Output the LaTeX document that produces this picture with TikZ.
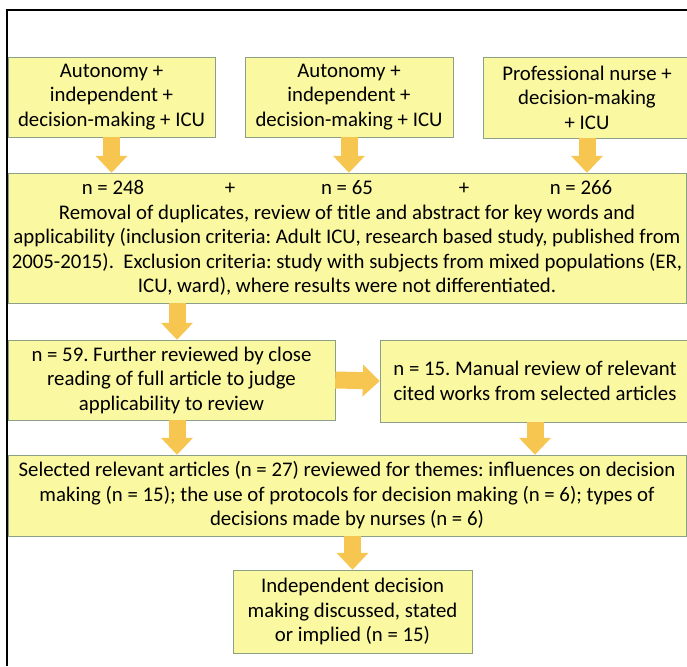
\documentclass[tikz,border=0pt]{standalone}
\usepackage{fontspec}
\setmainfont{Carlito}
\usepackage{xcolor}
\usepackage{tikz}
\usetikzlibrary{positioning,arrows.meta}
\definecolor{boxfill}{RGB}{250,248,160}
\definecolor{boxline}{RGB}{140,160,135}
\definecolor{arrowfill}{RGB}{247,198,80}
\frenchspacing

\begin{document}
\begin{tikzpicture}[x=1pt,y=-1pt,b/.style={draw=boxline,fill=boxfill,align=center,inner sep=0pt,font=\fontsize{20.8}{24.5}\selectfont},ar/.style={draw=arrowfill,line width=17pt,-{Triangle[width=31pt,length=17pt]}}]
\useasboundingbox (0,0) rectangle (687,666);
\draw[line width=2.5pt] (7,666)--(7,10)--(687,10);
\node[b,minimum width=207pt,minimum height=80pt] (s1) at (111.5,97) {Autonomy +\\independent +\\decision-making + ICU};
\node[b,minimum width=208pt,minimum height=80pt] (s2) at (349,97) {Autonomy +\\independent +\\decision-making + ICU};
\node[b,minimum width=208pt,minimum height=81pt] (s3) at (587,97.5) {Professional nurse +\\decision-making\\+ ICU};
\node[b,minimum width=678pt,minimum height=130pt] (dup) at (347,238) {\makebox[117pt]{n = 248}\makebox[117pt]{+}\makebox[117pt]{n = 65}\makebox[117pt]{+}\makebox[117pt]{n = 266}\\Removal of duplicates, review of title and abstract for key words and\\applicability (inclusion criteria: Adult ICU, research based study, published from\\2005-2015).\ \ Exclusion criteria: study with subjects from mixed populations (ER,\\ICU, ward), where results were not differentiated.};
\node[b,minimum width=327pt,minimum height=80pt] (n59) at (171.5,380) {n = 59. Further reviewed by close\\reading of full article to judge\\applicability to review};
\node[b,minimum width=310pt,minimum height=82pt] (n15) at (535,381) {n = 15. Manual review of relevant\\cited works from selected articles};
\node[b,minimum width=678pt,minimum height=81pt] (sel) at (347,495.5) {Selected relevant articles (n = 27) reviewed for themes: influences on decision\\making (n = 15); the use of protocols for decision making (n = 6); types of\\decisions made by nurses (n = 6)};
\node[b,minimum width=239pt,minimum height=83pt] (fin) at (352.5,611.5) {Independent decision\\making discussed, stated\\or implied (n = 15)};
\draw[ar] (s1.south)--(s1.south |- dup.north); \draw[ar] (s2.south)--(s2.south |- dup.north); \draw[ar] (s3.south)--(s3.south |- dup.north);
\draw[ar] ([xshift=5.5pt]n59.north |- dup.south)--([xshift=5.5pt]n59.north);
\draw[ar] (n59.east)--(n15.west);
\draw[ar] ([xshift=5.5pt]n59.south)--([xshift=5.5pt]n59.south |- sel.north); \draw[ar] (n15.south)--(n15.south |- sel.north);
\draw[ar] (fin.north |- sel.south)--(fin.north);
\end{tikzpicture}
\end{document}
